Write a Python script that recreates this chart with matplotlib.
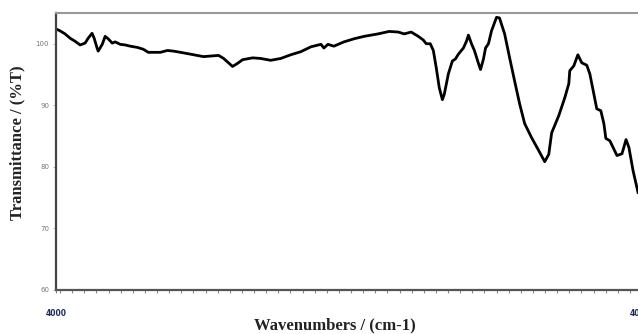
import matplotlib
matplotlib.use("Agg")
import matplotlib.pyplot as plt
from matplotlib.ticker import MultipleLocator, FixedLocator

wavenumber = [4000, 3975, 3944, 3913, 3882, 3851, 3820, 3801, 3777, 3764, 3746, 3739,
              3714, 3696, 3677, 3652, 3634, 3603, 3572, 3541, 3497, 3460, 3429, 3354,
              3311, 3274, 3230, 3168, 3088, 2994, 2963, 2908, 2877, 2846, 2783, 2734,
              2672, 2610, 2548, 2486, 2423, 2361, 2343, 2318, 2281, 2219, 2157, 2094,
              2008, 1939, 1883, 1846, 1803, 1759, 1728, 1710, 1685, 1666, 1648, 1629,
              1610, 1598, 1573, 1548, 1530, 1511, 1480, 1461, 1449, 1430, 1412, 1387,
              1374, 1356, 1343, 1325, 1306, 1275, 1257, 1225, 1194, 1163, 1132, 1101,
              1058, 1014, 977, 952, 934, 890, 853, 828, 822, 797, 772, 748, 717, 698,
              673, 655, 630, 611, 599, 574, 530, 499, 474, 456, 431, 406, 400]
transmittance = [102.4, 102.1, 101.6, 100.9, 100.4, 99.8, 100.1, 100.9, 101.7, 100.9, 99.3, 98.8,
                 99.9, 101.2, 100.8, 100.1, 100.3, 99.9, 99.8, 99.6, 99.4, 99.1, 98.6, 98.6,
                 98.9, 98.8, 98.6, 98.3, 97.9, 98.1, 97.6, 96.3, 96.8, 97.4, 97.7, 97.6,
                 97.3, 97.6, 98.2, 98.7, 99.5, 99.9, 99.3, 99.9, 99.6, 100.3, 100.8, 101.2,
                 101.6, 102.0, 101.9, 101.6, 101.9, 101.2, 100.6, 100.0, 100.0, 98.9, 96.1, 92.8,
                 90.9, 91.8, 95.1, 97.2, 97.5, 98.3, 99.3, 100.4, 101.4, 100.0, 98.9, 96.8,
                 95.8, 97.5, 99.3, 100.0, 102.1, 104.3, 104.2, 101.6, 97.7, 93.9, 90.2, 87.0,
                 84.7, 82.6, 80.8, 82.0, 85.5, 88.3, 91.2, 93.5, 95.6, 96.4, 98.2, 96.9, 96.5, 95.1,
                 91.8, 89.4, 89.1, 87.0, 84.6, 84.2, 81.8, 82.1, 84.4, 83.1, 79.4, 76.5, 75.8]

x_tick_values = [4000, 400]
x_tick_labels = ["4000", "400"]
y_tick_values = [60, 70, 80, 90, 100]
y_tick_labels = ["60", "70", "80", "90", "100"]

fig = plt.figure(figsize=(6.38, 3.34), dpi=100)
fig.patch.set_facecolor("white")
ax = fig.add_axes([56 / 638, (334 - 289.5) / 334, (638 - 56) / 638, (289.5 - 13) / 334])

ax.plot(wavenumber, transmittance, color="black", lw=2.0, solid_joinstyle="round")
ax.set_xlim(4000, 400)
ax.set_ylim(60, 105)

ax.xaxis.set_major_locator(FixedLocator(x_tick_values))
ax.set_xticklabels(x_tick_labels, fontsize=5.5, fontweight="bold", color="#1f2b5c")
ax.xaxis.set_minor_locator(MultipleLocator(75))
ax.tick_params(axis="x", which="both", direction="out", length=2, width=0.8,
               color="#888888", pad=12)

ax.yaxis.set_major_locator(FixedLocator(y_tick_values))
ax.set_yticklabels(y_tick_labels, fontsize=5, color="#777777")
ax.tick_params(axis="y", which="major", direction="out", length=2, width=0.6,
               color="#aaaaaa", pad=3)

ax.spines["right"].set_visible(False)
ax.spines["left"].set_color("#444444")
ax.spines["left"].set_linewidth(1.6)
ax.spines["bottom"].set_color("#555555")
ax.spines["bottom"].set_linewidth(1.6)
ax.spines["top"].set_color("#999999")
ax.spines["top"].set_linewidth(1.5)

fig.text(17 / 638, 1 - 143 / 334, "Transmittance / (%T)", rotation=90,
         ha="center", va="center", fontsize=12, fontweight="bold",
         family="Liberation Serif", color="#222222")
fig.text(335 / 638, 1 - 325 / 334, "Wavenumbers / (cm-1)",
         ha="center", va="center", fontsize=12, fontweight="bold",
         family="Liberation Serif", color="#222222")

fig.savefig("out.png", dpi=100, facecolor="white")
